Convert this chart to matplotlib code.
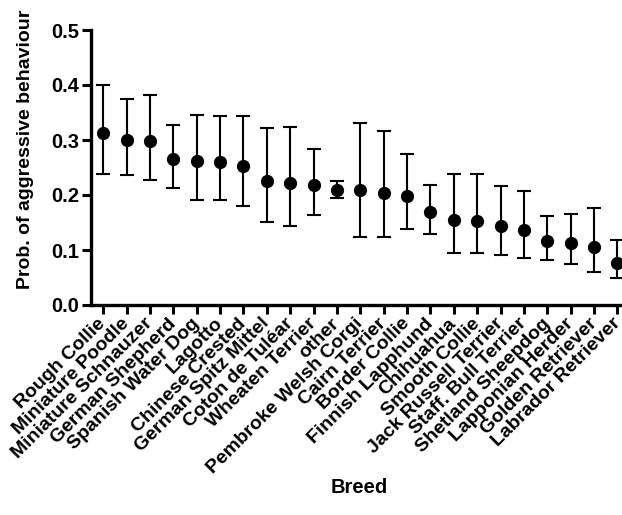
import matplotlib
matplotlib.use("Agg")
import matplotlib.pyplot as plt
import numpy as np

plt.rcParams['font.family'] = ['Liberation Sans', 'DejaVu Sans']
plt.rcParams['font.weight'] = 'bold'

breeds = ["Rough Collie", "Miniature Poodle", "Miniature Schnauzer", "German Shepherd",
          "Spanish Water Dog", "Lagotto", "Chinese Crested", "German Spitz Mittel",
          "Coton de Tuléar", "Wheaten Terrier", "other", "Pembroke Welsh Corgi",
          "Cairn Terrier", "Border Collie", "Finnish Lapphund", "Chihuahua",
          "Smooth Collie", "Jack Russell Terrier", "Staff. Bull Terrier",
          "Shetland Sheepdog", "Lapponian Herder", "Golden Retriever", "Labrador Retriever"]
prob = [0.313, 0.300, 0.298, 0.265, 0.261, 0.260, 0.253, 0.225, 0.221, 0.219, 0.210,
        0.209, 0.204, 0.198, 0.169, 0.154, 0.153, 0.143, 0.136, 0.116, 0.113, 0.105, 0.077]
upper = [0.400, 0.375, 0.381, 0.328, 0.345, 0.343, 0.343, 0.322, 0.324, 0.284, 0.226,
         0.331, 0.317, 0.274, 0.218, 0.239, 0.238, 0.217, 0.208, 0.162, 0.166, 0.176, 0.119]
lower = [0.238, 0.236, 0.227, 0.213, 0.191, 0.191, 0.180, 0.151, 0.144, 0.164, 0.195,
         0.124, 0.124, 0.139, 0.130, 0.095, 0.095, 0.091, 0.086, 0.082, 0.075, 0.060, 0.049]

prob = np.array(prob)
err = np.vstack([prob - np.array(lower), np.array(upper) - prob])
x = np.arange(len(breeds))

fig = plt.figure(figsize=(6.22, 5.15), dpi=100)
ax = fig.add_axes([91/622, 1 - 305/515, (621 - 91)/622, (305 - 30)/515])

ax.errorbar(x, prob, yerr=err, fmt='o', color='black', ms=8.5, elinewidth=1.5,
            capsize=4.8, capthick=1.5)

# last tick sits a few px in from the right edge
ax.set_xlim(-0.52, 22.15)
ax.set_ylim(0, 0.5)
ax.set_yticks([0, 0.1, 0.2, 0.3, 0.4, 0.5])
ax.set_yticklabels(["0.0", "0.1", "0.2", "0.3", "0.4", "0.5"], fontsize=14.5, fontweight='bold')
ax.set_xticks(x)
ax.set_xticklabels(breeds, rotation=45, ha='right', va='center', rotation_mode='anchor',
                   fontsize=14, fontweight='bold')

for s in ['top', 'right']:
    ax.spines[s].set_visible(False)
for s in ['left', 'bottom']:
    ax.spines[s].set_linewidth(2.4)
ax.tick_params(axis='both', direction='out', length=6.5, width=2.2)
ax.tick_params(axis='x', pad=5)
ax.tick_params(axis='y', pad=2)

ax.set_ylabel("Prob. of aggressive behaviour", fontsize=14, fontweight='bold')
ax.yaxis.set_label_coords(-0.124, 0.567)
ax.yaxis.label.set_va('center')
ax.set_xlabel("Breed", fontsize=14.5, fontweight='bold')
ax.xaxis.set_label_coords(0.507, -0.665)
ax.xaxis.label.set_va('center')

fig.savefig("out.png", dpi=100)
